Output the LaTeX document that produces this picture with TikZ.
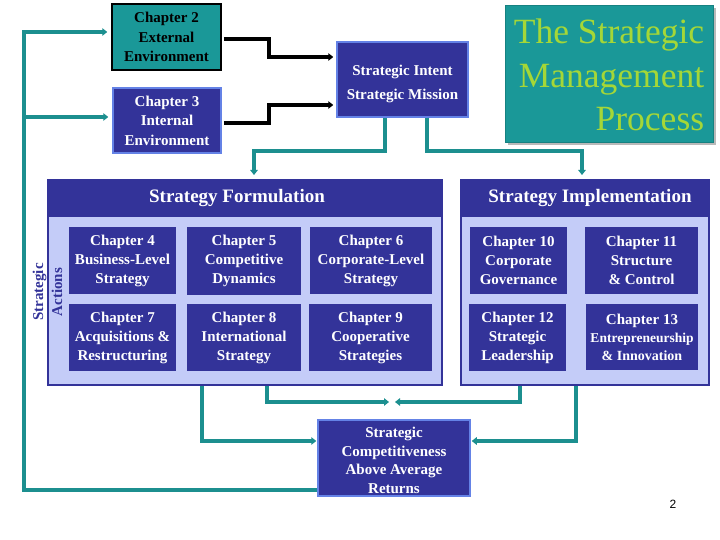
\documentclass[tikz,border=0pt]{standalone}
\usepackage{fontspec}
\setmainfont{Liberation Serif}
\newfontfamily\pagefont{Liberation Sans}
\usetikzlibrary{arrows.meta,calc}
\definecolor{navy}{RGB}{51,51,153}
\definecolor{lav}{RGB}{196,204,248}
\definecolor{tealbox}{RGB}{26,152,152}
\definecolor{tealline}{RGB}{28,143,143}
\definecolor{edgeblue}{RGB}{100,130,230}
\definecolor{titlegreen}{RGB}{165,215,55}
\begin{document}
\begin{tikzpicture}[x=1pt,y=-1pt,
  chap/.style={fill=navy, text=white, inner sep=0pt, align=center,
    font=\bfseries\fontsize{15}{19}\selectfont},
  edgebox/.style={fill=navy, draw=edgeblue, line width=1.5pt, text=white, inner sep=0pt, align=center},
  panel/.style={fill=lav, draw=navy, line width=2pt, inner sep=0pt},
  headbar/.style={fill=navy, inner sep=0pt},
  headtext/.style={text=white, inner sep=0pt, font=\bfseries\fontsize{19}{22}\selectfont},
  tl/.style={draw=tealline, line width=3.2pt, -{Triangle[length=5pt,width=7.5pt]}},
  blk/.style={draw=black, line width=3.2pt, -{Triangle[length=5pt,width=7.5pt]}}
]
\useasboundingbox[fill=white] (0,0) rectangle (720,540);

% title
\fill[gray!55] (508,8) rectangle (716,145);
\node[fill=tealbox, draw=tealbox!85!black, line width=0.4pt, minimum width=208pt, minimum height=137pt,
  inner sep=0pt] (title) at (609,73.5) {};
\node[text=titlegreen, align=right, inner sep=0pt, font=\fontsize{35.5}{43.5}\selectfont] (titletext) at (609,75)
  {The Strategic\\Management\\Process};

% environment boxes
\node[fill=tealbox, draw=black, line width=1.5pt, text=black, inner sep=0pt, align=center,
  font=\bfseries\fontsize{15}{19.5}\selectfont, minimum width=109pt, minimum height=66pt] (c2) at (166.5,37)
  {Chapter 2\\External\\Environment};
\node[edgebox, font=\bfseries\fontsize{15}{19.5}\selectfont, minimum width=108pt, minimum height=65pt] (c3) at (167,120.5)
  {Chapter 3\\Internal\\Environment};
\node[edgebox, minimum width=131pt, minimum height=75pt] (si) at (402.5,79.5) {};
\node[text=white, inner sep=0pt, align=center, font=\bfseries\fontsize{15}{24}\selectfont] (sitext) at (402.5,84)
  {Strategic Intent\\Strategic Mission};

% panels
\node[panel, minimum width=394pt, minimum height=205pt] (form) at (245,282.5) {};
\node[headbar, minimum width=394pt, minimum height=37pt] (formhead) at (245,198.5) {};
\node[headtext] (formtitle) at (237,198) {Strategy Formulation};
\node[panel, minimum width=248pt, minimum height=205pt] (impl) at (585,282.5) {};
\node[headbar, minimum width=248pt, minimum height=37pt] (implhead) at (585,198.5) {};
\node[headtext] (impltitle) at (590,198) {Strategy Implementation};

\node[rotate=90, text=navy, inner sep=0pt, align=center, font=\bfseries\fontsize{15}{19}\selectfont] (sa) at (47.5,292)
  {Strategic\\Actions};

% chapters
\node[chap, minimum width=107pt, minimum height=67pt] (c4) at (122.5,260.5) {Chapter 4\\Business-Level\\Strategy};
\node[chap, minimum width=114pt, minimum height=68pt] (c5) at (244,261) {Chapter 5\\Competitive\\Dynamics};
\node[chap, minimum width=122pt, minimum height=67pt] (c6) at (371,260.5) {Chapter 6\\Corporate-Level\\Strategy};
\node[chap, minimum width=107pt, minimum height=67pt] (c7) at (122.5,337.5) {Chapter 7\\Acquisitions \&\\Restructuring};
\node[chap, minimum width=114pt, minimum height=67pt] (c8) at (244,337.5) {Chapter 8\\International\\Strategy};
\node[chap, minimum width=123pt, minimum height=67pt] (c9) at (370.5,337.5) {Chapter 9\\Cooperative\\Strategies};
\node[chap, minimum width=97pt, minimum height=67pt] (c10) at (518.5,260.5) {Chapter 10\\Corporate\\Governance};
\node[chap, minimum width=113pt, minimum height=67pt] (c11) at (641.5,260.5) {Chapter 11\\Structure\\\& Control};
\node[chap, minimum width=97pt, minimum height=67pt] (c12) at (517.5,337.5) {Chapter 12\\Strategic\\Leadership};
\node[chap, minimum width=112pt, minimum height=66pt] (c13) at (642,337)
  {Chapter 13\\[-1pt]{\fontsize{13.5}{17}\selectfont Entrepreneurship}\\[-1pt]{\fontsize{14}{17}\selectfont \& Innovation}};

% outcome
\node[edgebox, minimum width=152pt, minimum height=76pt] (sc) at (394,458) {};
\node[text=white, inner sep=0pt, align=center, font=\bfseries\fontsize{15}{18.5}\selectfont] (sctext) at (394,460.5)
  {Strategic\\Competitiveness\\Above Average\\Returns};

\node[font=\pagefont\fontsize{12}{14}\selectfont, inner sep=0pt] (pg) at (673,504) {2};

% black connectors
\draw[blk, shorten <=2pt, shorten >=3pt] (c2.east |- 0,39) -- (269,39) -- (269,57) -- (si.west |- 0,57);
\draw[blk, shorten <=2pt, shorten >=3pt] (c3.east |- 0,123) -- (269,123) -- (269,105) -- (si.west |- 0,105);

% feedback loop
\draw[tl, shorten >=4pt] (sc.west |- 0,490) -- (24,490) -- (24,32) -- (c2.west |- 0,32);
\draw[tl, shorten >=4pt] (24,117) -- (c3.west |- 0,117);

% intent to panels
\draw[tl, shorten >=4pt] (si.south -| 385,0) -- (385,151) -- (254,151) -- (254,151 |- form.north);
\draw[tl, shorten >=4pt] (si.south -| 427,0) -- (427,151) -- (582,151) -- (582,151 |- impl.north);

% panels to outcome
\coordinate (meetL) at (389,402);
\coordinate (meetR) at (395,402);
\draw[tl, shorten >=1pt] (form.south -| 202,0) -- (202,441) -- (sc.west |- 0,441);
\draw[tl] (form.south -| 267,0) -- (267,402) -- (meetL);
\draw[tl] (impl.south -| 520,0) -- (520,402) -- (meetR);
\draw[tl, shorten >=1pt] (impl.south -| 576,0) -- (576,441) -- (sc.east |- 0,441);
\end{tikzpicture}
\end{document}
